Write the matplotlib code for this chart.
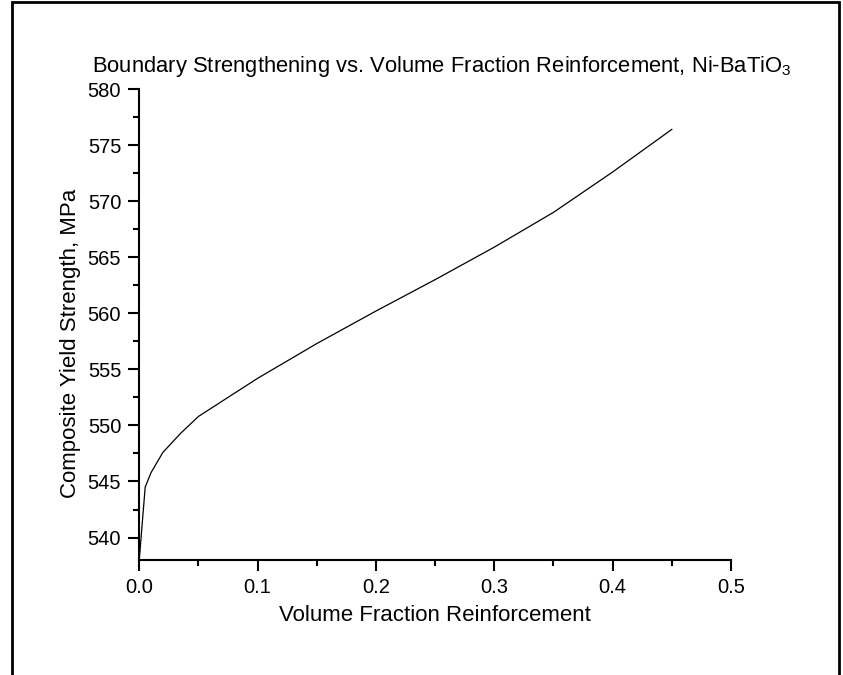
import matplotlib
matplotlib.use("Agg")
import matplotlib.pyplot as plt
from matplotlib.patches import Rectangle
from matplotlib.ticker import MultipleLocator

plt.rcParams['font.family'] = ['Liberation Sans', 'DejaVu Sans']
plt.rcParams['mathtext.fontset'] = 'custom'
plt.rcParams['mathtext.rm'] = 'Liberation Sans'

# volume fraction of BaTiO3 vs composite yield strength (MPa)
vol_frac = [0.0, 0.005, 0.01, 0.02, 0.035, 0.05, 0.1, 0.15, 0.2, 0.25, 0.3, 0.35, 0.4, 0.45]
strength = [538.0, 544.5, 545.8, 547.6, 549.3, 550.8, 554.2, 557.3, 560.2, 563.0, 565.9, 569.0, 572.6, 576.4]

fig = plt.figure(figsize=(8.43, 6.75), dpi=100)
ax = fig.add_axes([0.1652, 0.1704, 0.7019, 0.6977])

ax.plot(vol_frac, strength, color='black', lw=0.9)

ax.set_xlim(0, 0.5)
ax.set_ylim(538, 580)
ax.xaxis.set_major_locator(MultipleLocator(0.1))
ax.xaxis.set_minor_locator(MultipleLocator(0.05))
ax.yaxis.set_major_locator(MultipleLocator(5))
ax.yaxis.set_minor_locator(MultipleLocator(2.5))
ax.xaxis.set_major_formatter(matplotlib.ticker.FormatStrFormatter('%.1f'))

for side in ['top', 'right']:
    ax.spines[side].set_visible(False)
for side in ['left', 'bottom']:
    ax.spines[side].set_linewidth(1.5)

ax.tick_params(which='major', direction='out', length=8, width=1.5, labelsize=14.5, pad=5)
ax.tick_params(which='minor', direction='out', length=4, width=1.5)

ax.set_xlabel('Volume Fraction Reinforcement', fontsize=16, labelpad=6)
ax.set_ylabel('Composite Yield Strength, MPa', fontsize=16)
ax.yaxis.set_label_coords(-0.099, 0.46)
ax.set_title(r'Boundary Strengthening vs. Volume Fraction Reinforcement, Ni-BaTiO$\mathregular{_3}$',
             fontsize=15.8, pad=12, x=0.512)

# page frame around the plot
fig.patches.append(Rectangle((12 / 843, -0.1), 827 / 843, 1.1 - 2 / 675, transform=fig.transFigure,
                             fill=False, edgecolor='black', lw=2))

fig.savefig('out.png', dpi=100)
